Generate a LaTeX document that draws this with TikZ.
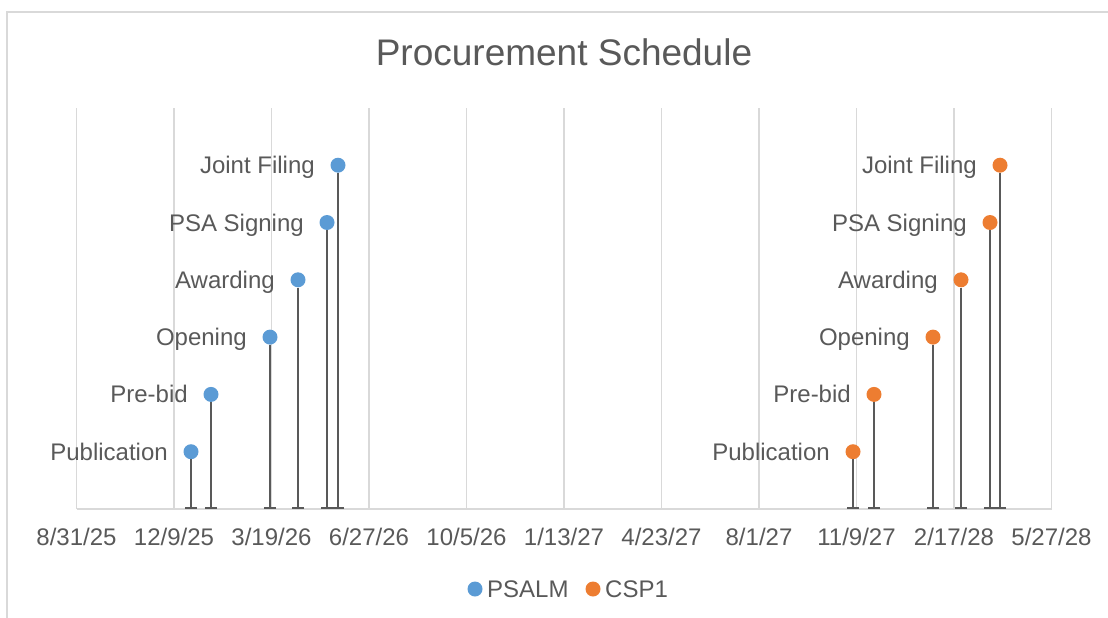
\documentclass[tikz,border=0pt]{standalone}
\usepackage{fontspec}
\setmainfont{Liberation Sans}
\usetikzlibrary{arrows.meta}
\definecolor{psalm}{HTML}{5B9BD5}
\definecolor{csp}{HTML}{ED7D31}
\definecolor{txtgray}{HTML}{595959}
\definecolor{linegray}{HTML}{D9D9D9}

\begin{document}
\begin{tikzpicture}[x=1pt,y=-1pt,
    declare function={base=509;dy=57.3;xz=76.5;dx=97.5;},
    dot/.style={circle,inner sep=0pt,minimum size=15pt},
    stem/.style={draw=txtgray,line width=1.8pt,-{Bar[width=12pt,line width=1.8pt]}},
    lbl/.style={text=txtgray,font=\fontsize{24}{28}\selectfont},
    mlbl/.style={lbl,text height=17pt,text depth=0pt,label distance=12pt},
    gridl/.style={draw=linegray,line width=1.3pt},
   ]
   \useasboundingbox (0,0) rectangle (1108,618);
   % chart frame and grid
   \draw[gridl,line width=1.6pt] (7,640) |- (1130,12);
   \foreach \d [count=\i from 0] in {{8/31/25},{12/9/25},{3/19/26},{6/27/26},{10/5/26},
       {1/13/27},{4/23/27},{8/1/27},{11/9/27},{2/17/28},{5/27/28}}{
     \draw[gridl] ({xz+\i*dx},108) -- ({xz+\i*dx},base);
     \node[lbl,anchor=base] (t\i) at ({xz+\i*dx},545) {\d};
   }
   \draw[gridl] (xz,base) -- ({xz+10*dx},base);
   \node[text=txtgray,font=\fontsize{37}{44}\selectfont,anchor=base] (title)
     at (564,66) {Procurement Schedule};
   % PSALM
   \foreach \x/\k/\t [count=\i] in {191/1/Publication,211/2/Pre-bid,270/3/Opening,
       298/4/Awarding,327/5/PSA Signing,338/6/Joint Filing}{
     \coordinate (pb\i) at (\x,base);
     \node[dot,fill=psalm,label={[mlbl]left:\t}] (p\i) at (\x,{base-\k*dy}) {};
     \draw[stem] (p\i.south) -- (pb\i);
   }
   % CSP1
   \foreach \x/\k/\t [count=\i] in {853/1/Publication,874/2/Pre-bid,933/3/Opening,
       961/4/Awarding,990/5/PSA Signing,1000/6/Joint Filing}{
     \coordinate (cb\i) at (\x,base);
     \node[dot,fill=csp,label={[mlbl]left:\t}] (c\i) at (\x,{base-\k*dy}) {};
     \draw[stem] (c\i.south) -- (cb\i);
   }
   % legend
   \node[dot,fill=psalm] (lp) at (475,589) {};
   \node[lbl,anchor=base west,inner sep=0pt] (lpt) at (487,597) {PSALM};
   \node[dot,fill=csp] (lc) at (593,589) {};
   \node[lbl,anchor=base west,inner sep=0pt] (lct) at (605,597) {CSP1};
\end{tikzpicture}
\end{document}
